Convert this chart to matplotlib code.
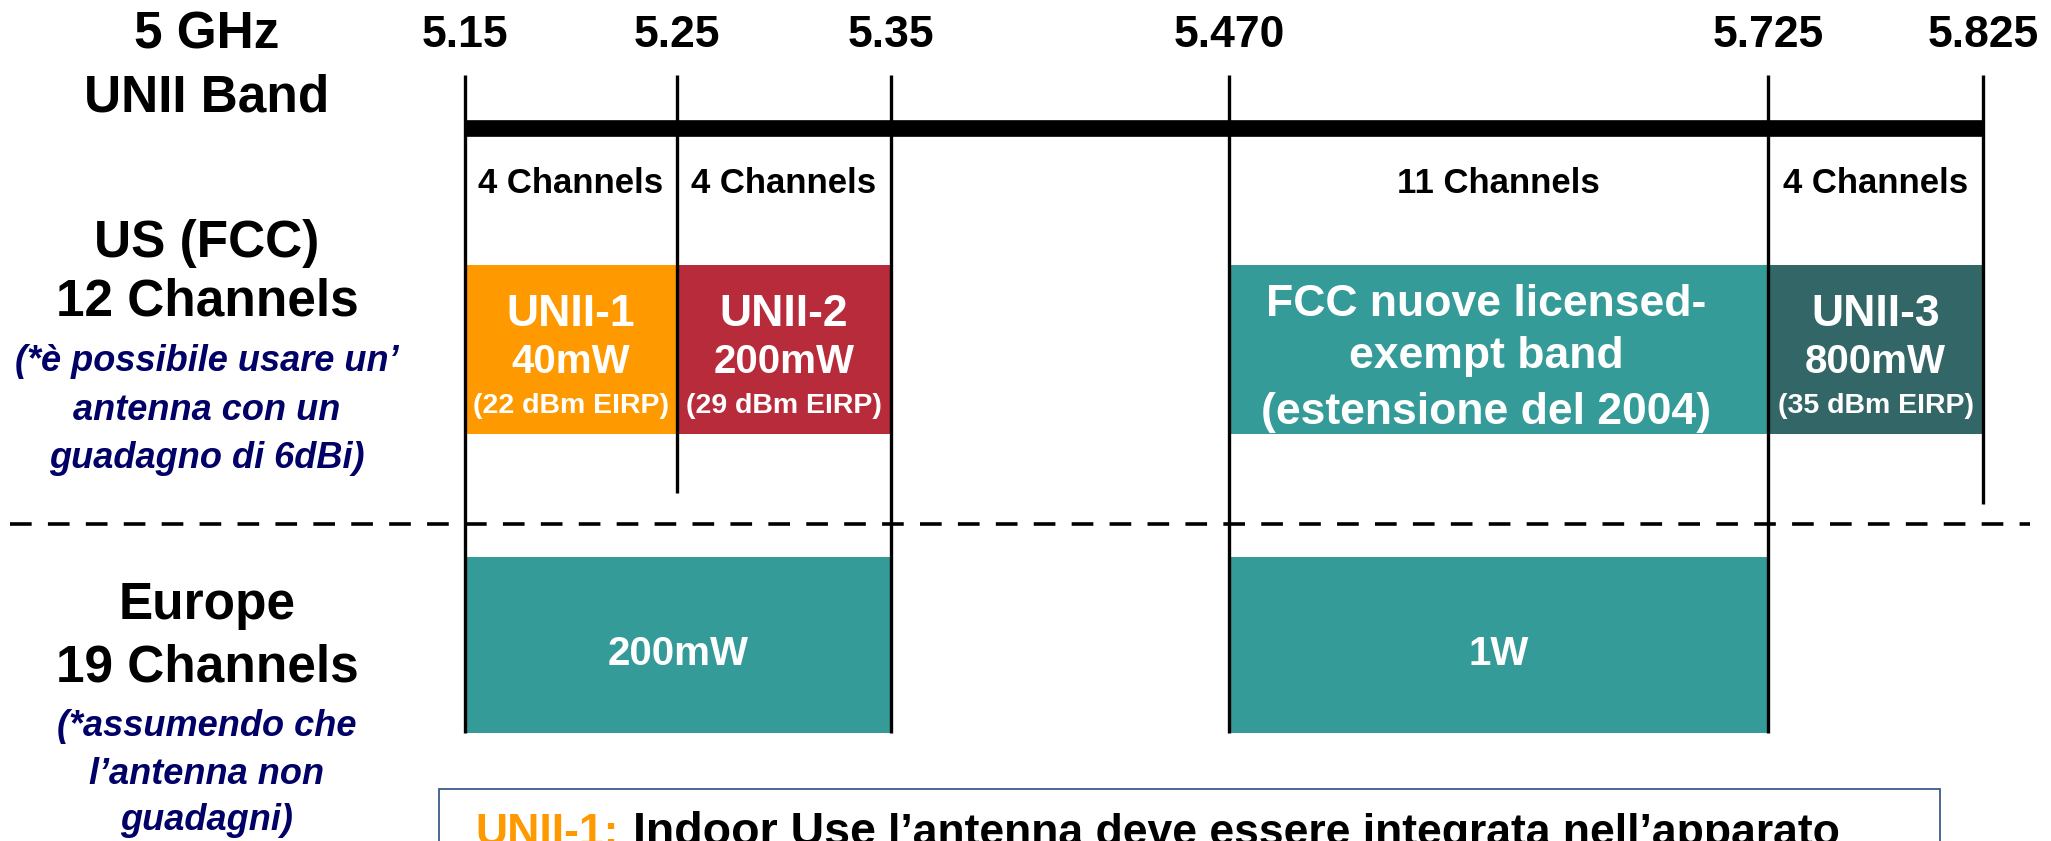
import matplotlib
matplotlib.use("Agg")
import matplotlib.pyplot as plt
import numpy as np
from matplotlib.patches import Rectangle

plt.rcParams["font.family"] = ["Liberation Sans", "DejaVu Sans"]
plt.rcParams["font.weight"] = "bold"

# band edges (GHz) and their labels
edges = [5.15, 5.25, 5.35, 5.470, 5.725, 5.825]
edge_labels = ["5.15", "5.25", "5.35", "5.470", "5.725", "5.825"]

# channel counts per sub-band
chan_lo = [5.15, 5.25, 5.47, 5.725]
chan_hi = [5.25, 5.35, 5.725, 5.825]
chan_labels = ["4 Channels", "4 Channels", "11 Channels", "4 Channels"]

# US (FCC) bands
us_lo = [5.15, 5.25, 5.47, 5.725]
us_hi = [5.25, 5.35, 5.725, 5.825]
us_title = ["UNII-1", "UNII-2", "", "UNII-3"]
us_power = ["40mW", "200mW", "", "800mW"]
us_eirp = ["(22 dBm EIRP)", "(29 dBm EIRP)", "", "(35 dBm EIRP)"]
us_note = ["", "", "FCC nuove licensed-\nexempt band\n(estensione del 2004)", ""]
us_colors = ["#FF9900", "#B82B3A", "#349B99", "#336666"]

# Europe bands
eu_lo = [5.15, 5.47]
eu_hi = [5.35, 5.725]
eu_power = ["200mW", "1W"]
eu_color = "#349B99"

# diagram is not to scale: where each edge sits across the page (pixels)
edge_px = [465, 677, 891, 1229, 1768, 1983]
W, H = 2051, 841


def fwd(f):
    return np.interp(f, edges, edge_px)


def inv(p):
    return np.interp(p, edge_px, edges)


fig = plt.figure(figsize=(W / 100, H / 100), dpi=100)

# background axes in page pixels for the side labels, divider and note box
bg = fig.add_axes([0, 0, 1, 1])
bg.set_xlim(0, W)
bg.set_ylim(H, 0)
bg.axis("off")

ax = fig.add_axes([edge_px[0] / W, 0, (edge_px[-1] - edge_px[0]) / W, 1])
ax.set_xscale("function", functions=(fwd, inv))
ax.set_xlim(edges[0], edges[-1])
ax.set_ylim(H, 0)
ax.axis("off")
ax.patch.set_alpha(0)

# left-hand labels
lx = 207
bg.text(lx, 35, "5 GHz", ha="center", va="center", fontsize=37)
bg.text(lx, 98, "UNII Band", ha="center", va="center", fontsize=37)
bg.text(lx, 243, "US (FCC)", ha="center", va="center", fontsize=37)
bg.text(lx, 302, "12 Channels", ha="center", va="center", fontsize=37)
bg.text(lx, 606, "Europe", ha="center", va="center", fontsize=37)
bg.text(lx, 668, "19 Channels", ha="center", va="center", fontsize=37)
navy = "#000066"
for y, s in [(361, "(*è possibile usare un’"), (410, "antenna con un"), (458, "guadagno di 6dBi)"),
             (727, "(*assumendo che"), (775, "l’antenna non"), (821, "guadagni)")]:
    bg.text(lx, y, s, ha="center", va="center", fontsize=26, style="italic", color=navy)

# dashed divider
bg.plot([10, 2030], [524, 524], color="black", lw=2.6, dashes=(6, 4.5))

# note box at the bottom (cut by the page edge, as in the slide)
bg.add_patch(Rectangle((439, 789), 1940 - 439, 80, facecolor="white", edgecolor="#3B5A8C", lw=1.3))
bg.text(475, 845, "UNII-1:", color="#FF9900", fontsize=32, va="baseline")
bg.text(633, 845, "Indoor Use", color="black", fontsize=33.5, va="baseline")
bg.text(888, 845, "l’antenna deve essere integrata nell’apparato", color="black", fontsize=32, va="baseline")

# US bands
us_top, us_bot = 265, 434
for lo, hi, c in zip(us_lo, us_hi, us_colors):
    ax.bar(lo, us_bot - us_top, width=hi - lo, bottom=us_top, align="edge", color=c, lw=0, zorder=1)
for lo, hi, t, p, e, n in zip(us_lo, us_hi, us_title, us_power, us_eirp, us_note):
    xc = inv((fwd(lo) + fwd(hi)) / 2)
    if t:
        ax.text(xc, 315, t, ha="center", va="center", color="white", fontsize=32, zorder=4)
        ax.text(xc, 362, p, ha="center", va="center", color="white", fontsize=29, zorder=4)
        ax.text(xc, 406, e, ha="center", va="center", color="white", fontsize=20.5, zorder=4)
    if n:
        xn = inv(fwd(xc) - 12)
        for y, line in zip([305, 356, 412], n.split("\n")):
            ax.text(xn, y, line, ha="center", va="center", color="white", fontsize=32, zorder=4)

# Europe bands
eu_top, eu_bot = 557, 733
for lo, hi, p in zip(eu_lo, eu_hi, eu_power):
    ax.bar(lo, eu_bot - eu_top, width=hi - lo, bottom=eu_top, align="edge", color=eu_color, lw=0, zorder=1)
    xc = inv((fwd(lo) + fwd(hi)) / 2)
    ax.text(xc, 654, p, ha="center", va="center", color="white", fontsize=29, zorder=4)

# edge lines, frequency labels and the band bar
line_bottom = [733, 493, 733, 733, 733, 504]
for f, lab, yb in zip(edges, edge_labels, line_bottom):
    ax.plot([f, f], [75, yb], color="black", lw=2.4, solid_capstyle="butt", zorder=3, clip_on=False)
    ax.text(f, 35, lab, ha="center", va="center", fontsize=32, clip_on=False)
ax.plot([edges[0], edges[-1]], [128, 128], color="black", lw=12, solid_capstyle="butt", zorder=3, clip_on=False)

for lo, hi, s in zip(chan_lo, chan_hi, chan_labels):
    xc = inv((fwd(lo) + fwd(hi)) / 2)
    ax.text(xc, 183, s, ha="center", va="center", fontsize=25)

fig.savefig("out.png", dpi=100)
